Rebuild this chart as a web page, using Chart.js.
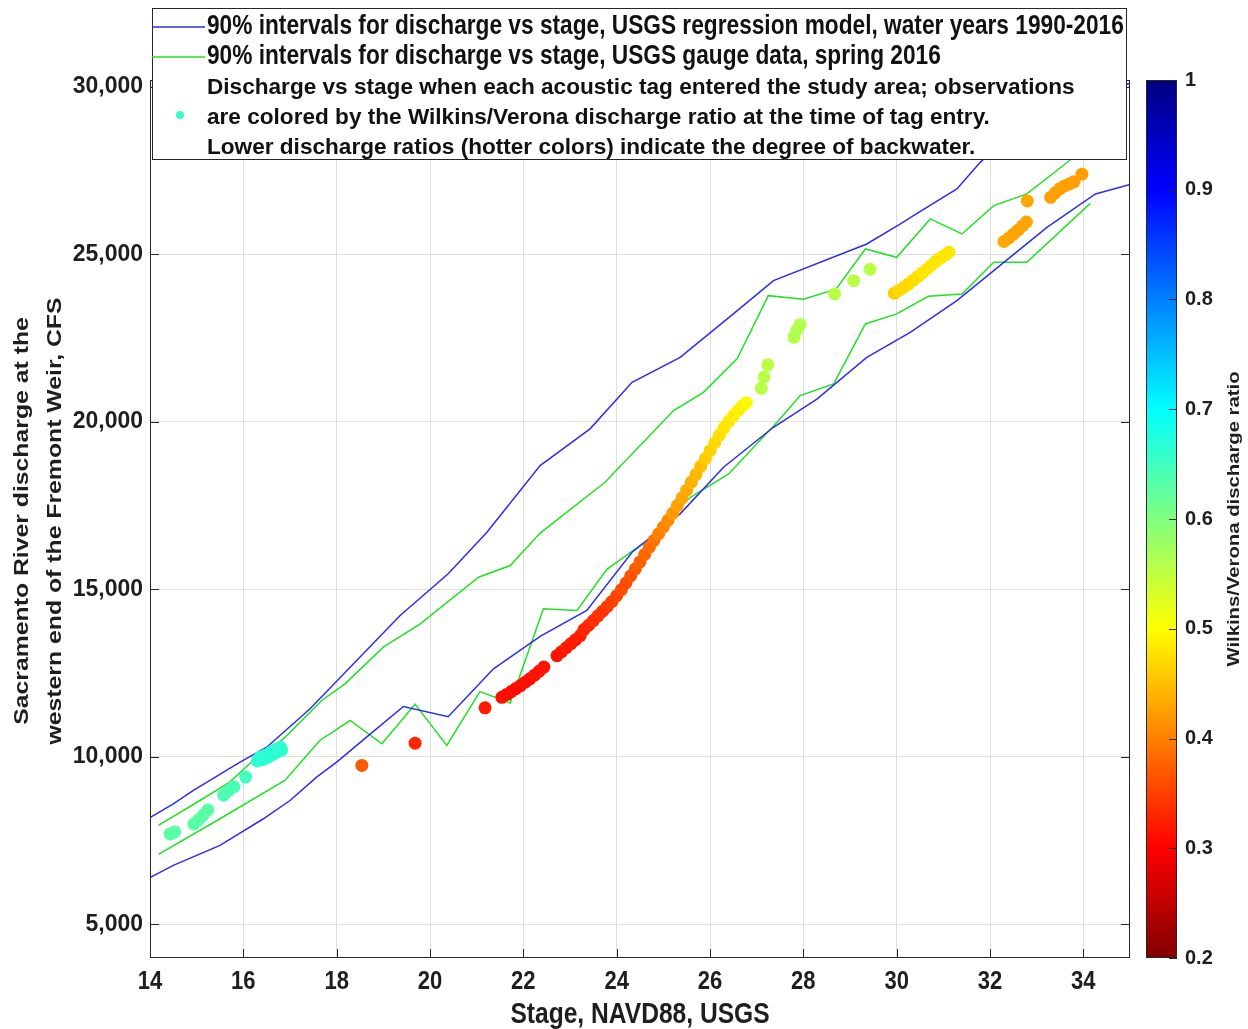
<!DOCTYPE html>
<html>
<head>
<meta charset="utf-8">
<title>Discharge vs stage</title>
<script src="https://cdn.jsdelivr.net/npm/chart.js@4.4.1/dist/chart.umd.min.js"></script>
<style>
  html, body { margin: 0; padding: 0; background: #fff; }
  #wrap { width: 1248px; height: 1029px; }
</style>
</head>
<body>
<div id="wrap"><canvas id="chart" width="1248" height="1029"></canvas></div>
<script>
// 90% interval lines (stage ft, discharge cfs)
const blueUpperStage = [14.0, 14.5, 14.93, 15.93, 16.5, 17.43, 19.36, 20.39, 21.22, 22.36, 23.43, 24.33, 25.36, 26.5, 27.36, 29.36, 30.08, 30.36, 31.29, 31.79, 32.3, 33.3, 34.3, 35.0];
const blueUpperFlow  = [8190, 8600, 9000, 9845, 10290, 11437, 14220, 15464, 16705, 18694, 19790, 21180, 21925, 23220, 24213, 25307, 25904, 26152, 26948, 27742, 28400, 29300, 29850, 30100];

const blueLowerStage = [14.0, 14.5, 15.5, 16.43, 17.0, 17.57, 18.0, 18.64, 19.43, 20.39, 21.36, 22.36, 23.36, 24.33, 25.36, 26.29, 27.36, 28.29, 29.36, 30.29, 31.29, 32.08, 33.22, 34.26, 35.0];
const blueLowerFlow  = [6400, 6763, 7360, 8155, 8700, 9396, 9845, 10590, 11505, 11200, 12630, 13600, 14370, 16108, 17253, 18644, 19837, 20680, 21925, 22670, 23616, 24511, 25803, 26800, 27080];

const greenUpperStage = [14.18, 15.07, 15.71, 16.29, 16.86, 17.68, 18.18, 19.0, 19.79, 21.04, 21.72, 22.36, 23.75, 25.22, 25.86, 26.58, 27.25, 28.0, 28.7, 29.33, 30.0, 30.72, 31.4, 32.08, 32.79, 33.61, 34.2];
const greenUpperFlow  = [7957, 8700, 9247, 9996, 10540, 11685, 12180, 13275, 13972, 15362, 15711, 16680, 18196, 20335, 20881, 21878, 23765, 23660, 23960, 25158, 24908, 26054, 25606, 26450, 26800, 27694, 28350];

const greenLowerStage = [14.18, 15.5, 16.89, 17.64, 18.29, 18.97, 19.68, 20.36, 21.07, 21.72, 22.43, 23.15, 23.79, 24.65, 25.58, 26.4, 27.5, 27.93, 28.65, 29.33, 30.0, 30.68, 31.4, 32.08, 32.79, 34.15];
const greenLowerFlow  = [7090, 8155, 9298, 10491, 11087, 10391, 11575, 10342, 11950, 11610, 14420, 14370, 15600, 16457, 17749, 18446, 20087, 20782, 21130, 22920, 23220, 23744, 23816, 24759, 24759, 26519];

// acoustic tag entries: stage, discharge, Wilkins/Verona discharge ratio
const tagStage = [
  14.43, 14.53, 14.94, 15.04, 15.14, 15.24, 15.58, 15.68, 15.80, 16.05,
  16.30, 16.36, 16.42, 16.48, 16.54, 16.58, 16.64, 16.68, 16.74, 16.80, 16.82,
  18.54, 19.68, 21.18,
  21.54, 21.64, 21.74, 21.84, 21.94, 22.04, 22.14, 22.24, 22.34, 22.44,
  22.72, 22.82, 22.92, 23.02, 23.12, 23.22,
  23.3, 23.4, 23.5, 23.6, 23.7, 23.8, 23.9, 24.0, 24.1, 24.2, 24.3, 24.4, 24.5, 24.6, 24.7, 24.8, 24.9,
  25.0, 25.1, 25.2, 25.3, 25.4, 25.5, 25.6, 25.7, 25.8, 25.9, 26.0, 26.1, 26.2, 26.3, 26.4, 26.5, 26.6, 26.7, 26.78,
  27.10, 27.16, 27.24, 27.80, 27.86, 27.93, 28.67, 29.08, 29.43,
  29.95, 30.05, 30.15, 30.25, 30.35, 30.45, 30.55, 30.65, 30.75, 30.85, 30.95, 31.05, 31.12,
  32.30, 32.40, 32.50, 32.60, 32.70, 32.78, 32.80,
  33.30, 33.40, 33.50, 33.60, 33.70, 33.80, 33.97
];
const tagFlow = [
  7700, 7760, 8000, 8120, 8260, 8420, 8860, 8990, 9110, 9400,
  9880, 10000, 9920, 10060, 9990, 10140, 10080, 10220, 10160, 10280, 10200,
  9746, 10411, 11466,
  11780, 11860, 11950, 12040, 12130, 12230, 12330, 12440, 12560, 12680,
  13020, 13140, 13260, 13380, 13500, 13620,
  13800, 13930, 14070, 14210, 14350, 14490, 14640, 14810, 14990, 15190, 15400, 15610, 15820, 16040, 16260, 16460, 16660,
  16860, 17060, 17270, 17500, 17730, 17960, 18200, 18430, 18670, 18900, 19140, 19370, 19600, 19820, 20010, 20180, 20340, 20480, 20570,
  21000, 21340, 21700, 22520, 22740, 22900, 23816, 24213, 24550,
  23840, 23920, 24010, 24110, 24220, 24330, 24440, 24560, 24680, 24800, 24900, 24990, 25060,
  25380, 25480, 25600, 25720, 25850, 25960, 26590,
  26700, 26840, 26960, 27040, 27100, 27160, 27390
];
const tagRatio = [
  0.63, 0.63, 0.63, 0.63, 0.63, 0.63, 0.64, 0.64, 0.64, 0.65,
  0.665, 0.665, 0.665, 0.665, 0.665, 0.665, 0.665, 0.665, 0.665, 0.665, 0.665,
  0.37, 0.33, 0.32,
  0.31, 0.31, 0.31, 0.31, 0.31, 0.31, 0.31, 0.315, 0.315, 0.315,
  0.315, 0.315, 0.32, 0.32, 0.32, 0.325,
  0.33, 0.33, 0.335, 0.34, 0.34, 0.345, 0.35, 0.355, 0.36, 0.36, 0.365, 0.37, 0.375, 0.38, 0.385, 0.39, 0.40,
  0.405, 0.41, 0.42, 0.425, 0.43, 0.435, 0.44, 0.445, 0.45, 0.46, 0.465, 0.47, 0.475, 0.48, 0.48, 0.485, 0.49, 0.49, 0.495,
  0.555, 0.555, 0.555, 0.56, 0.56, 0.56, 0.555, 0.555, 0.555,
  0.46, 0.47, 0.47, 0.47, 0.475, 0.475, 0.48, 0.48, 0.48, 0.48, 0.48, 0.48, 0.48,
  0.43, 0.43, 0.43, 0.43, 0.43, 0.43, 0.43,
  0.425, 0.425, 0.425, 0.425, 0.425, 0.425, 0.425
];

const xTicks = [14, 16, 18, 20, 22, 24, 26, 28, 30, 32, 34];
const yTicks = [5000, 10000, 15000, 20000, 25000, 30000];
const ratioTicks = [0.2, 0.3, 0.4, 0.5, 0.6, 0.7, 0.8, 0.9, 1];

const legendText = [
  '90% intervals for discharge vs stage, USGS regression model, water years 1990-2016',
  '90% intervals for discharge vs stage, USGS gauge data, spring 2016',
  'Discharge vs stage when each acoustic tag entered the study area; observations',
  'are colored by the Wilkins/Verona discharge ratio at the time of tag entry.',
  'Lower discharge ratios (hotter colors) indicate the degree of backwater.'
];
const legendMarkerRatio = 0.655;
const xTitle = 'Stage, NAVD88, USGS';
const yTitle = ['Sacramento River discharge at the', 'western end of the Fremont Weir, CFS'];
const colorbarTitle = 'Wilkins/Verona discharge ratio';

const sans = "'Liberation Sans', Arial, sans-serif";
const textColor = '#1e1e1e';
const axisColor = '#262626';
const gridColor = '#dedede';
const blue = 'rgb(45,45,235)';
const green = 'rgb(35,225,35)';
const stretch = 1.18; // the figure's text is drawn taller than wide

// reversed jet: 1 -> dark blue, 0.2 -> dark red
function jet(ratio) {
  const u = Math.min(1, Math.max(0, (1 - ratio) / 0.8));
  const c = v => Math.round(255 * Math.min(1, Math.max(0, v)));
  const r = c(Math.min(4 * u - 1.5, 4.5 - 4 * u));
  const g = c(Math.min(4 * u - 0.5, 3.5 - 4 * u));
  const b = c(Math.min(4 * u + 0.5, 2.5 - 4 * u));
  return `rgb(${r},${g},${b})`;
}

const toPoints = (xs, ys) => xs.map((x, i) => ({ x, y: ys[i] }));

function lineSet(xs, ys, color) {
  return {
    data: toPoints(xs, ys),
    showLine: true,
    borderColor: color,
    borderWidth: 1.5,
    pointRadius: 0,
    fill: false,
    order: 1
  };
}

// text with a non-uniform scale: sx along the baseline, sy across it
function drawText(ctx, text, x, y, font, opts) {
  const o = Object.assign({ sx: 1, sy: 1, rot: 0, align: 'center' }, opts);
  ctx.save();
  ctx.translate(x, y);
  ctx.rotate(o.rot);
  ctx.scale(o.sx, o.sy);
  ctx.font = font;
  ctx.textAlign = o.align;
  ctx.textBaseline = 'middle';
  ctx.fillText(text, 0, 0);
  ctx.restore();
}

const decorations = {
  id: 'decorations',
  afterDraw(chart) {
    const { ctx, chartArea: a, scales } = chart;
    const seg = (x1, y1, x2, y2) => { ctx.beginPath(); ctx.moveTo(x1, y1); ctx.lineTo(x2, y2); ctx.stroke(); };
    ctx.save();

    // axes box with inward ticks
    ctx.strokeStyle = axisColor;
    ctx.lineWidth = 1;
    ctx.strokeRect(a.left + 0.5, a.top + 0.5, a.right - a.left - 1, a.bottom - a.top - 1);
    xTicks.forEach(v => {
      const x = Math.round(scales.x.getPixelForValue(v)) + 0.5;
      seg(x, a.bottom, x, a.bottom - 9);
      seg(x, a.top, x, a.top + 9);
    });
    yTicks.forEach(v => {
      const y = Math.round(scales.y.getPixelForValue(v)) + 0.5;
      seg(a.left, y, a.left + 9, y);
      seg(a.right, y, a.right - 9, y);
    });

    // axis labels and titles
    ctx.fillStyle = textColor;
    xTicks.forEach(v => {
      drawText(ctx, String(v), scales.x.getPixelForValue(v), a.bottom + 24, `bold 22px ${sans}`, { sy: stretch });
    });
    drawText(ctx, xTitle, (a.left + a.right) / 2, a.bottom + 57, `bold 24.6px ${sans}`, { sy: stretch });
    const midY = (a.top + a.bottom) / 2 + 2;
    drawText(ctx, yTitle[0], 22, midY, `bold 21px ${sans}`, { rot: -Math.PI / 2, sx: stretch });
    drawText(ctx, yTitle[1], 55, midY, `bold 21px ${sans}`, { rot: -Math.PI / 2, sx: stretch });

    // colorbar
    const cb = scales.cbar;
    const bl = a.right + 16, br = a.right + 47;
    const grad = ctx.createLinearGradient(0, a.top, 0, a.bottom);
    [0, 0.125, 0.375, 0.625, 0.875, 1].forEach(u => grad.addColorStop(u, jet(1 - 0.8 * u)));
    ctx.fillStyle = grad;
    ctx.fillRect(bl, a.top, br - bl, a.bottom - a.top);
    ctx.strokeRect(bl + 0.5, a.top + 0.5, br - bl - 1, a.bottom - a.top - 1);
    ratioTicks.forEach(v => {
      const y = Math.round(cb.getPixelForValue(v)) + 0.5;
      seg(br - 8, y, br, y);
    });
    ctx.fillStyle = textColor;
    drawText(ctx, colorbarTitle, 1234, (a.top + a.bottom) / 2, `bold 17.2px ${sans}`, { rot: -Math.PI / 2, sx: stretch });

    // legend box
    const lx = a.left + 2, lr = a.right - 3, lt = 8, lb = 160;
    ctx.fillStyle = '#ffffff';
    ctx.fillRect(lx, lt, lr - lx, lb - lt);
    ctx.strokeStyle = axisColor;
    ctx.strokeRect(lx + 0.5, lt + 0.5, lr - lx - 1, lb - lt - 1);
    const rowY = [27, 57, 88, 118, 148];
    ctx.lineWidth = 1.5;
    ctx.strokeStyle = blue;
    seg(lx, rowY[0], lx + 53, rowY[0]);
    ctx.strokeStyle = green;
    seg(lx, rowY[1], lx + 53, rowY[1]);
    ctx.fillStyle = jet(legendMarkerRatio);
    ctx.beginPath();
    ctx.arc(lx + 28, 115, 4, 0, Math.PI * 2);
    ctx.fill();

    ctx.fillStyle = '#111111';
    legendText.forEach((t, i) => {
      if (i < 2) {
        drawText(ctx, t, lx + 55, rowY[i], `bold 22.7px ${sans}`, { align: 'left', sy: stretch });
      } else {
        drawText(ctx, t, lx + 55, rowY[i], `bold 22.6px ${sans}`, { align: 'left' });
      }
    });
    ctx.restore();
  }
};

new Chart(document.getElementById('chart'), {
  type: 'scatter',
  data: {
    datasets: [
      {
        data: toPoints(tagStage, tagFlow),
        backgroundColor: tagRatio.map(jet),
        borderWidth: 0,
        pointRadius: 6.5,
        order: 0
      },
      lineSet(blueUpperStage, blueUpperFlow, blue),
      lineSet(blueLowerStage, blueLowerFlow, blue),
      lineSet(greenUpperStage, greenUpperFlow, green),
      lineSet(greenLowerStage, greenLowerFlow, green)
    ]
  },
  options: {
    responsive: false,
    animation: false,
    devicePixelRatio: 1,
    layout: { padding: { left: 0, right: 0, top: 80, bottom: 0 } },
    plugins: { legend: { display: false }, tooltip: { enabled: false } },
    scales: {
      x: {
        type: 'linear',
        min: 14,
        max: 35,
        afterBuildTicks: s => { s.ticks = xTicks.map(v => ({ value: v })); },
        afterFit: s => { s.height = 71; },
        grid: { color: gridColor, drawTicks: false },
        border: { display: false },
        ticks: { display: false }
      },
      y: {
        type: 'linear',
        min: 4000,
        max: 30200,
        afterBuildTicks: s => { s.ticks = yTicks.map(v => ({ value: v })); },
        afterFit: s => { s.width = 150; },
        grid: { color: gridColor, drawTicks: false },
        border: { display: false },
        ticks: { padding: 7, color: textColor, font: { family: sans, size: 23, weight: 'bold' }, callback: v => v.toLocaleString('en-US') }
      },
      cbar: {
        type: 'linear',
        position: 'right',
        min: 0.2,
        max: 1,
        afterBuildTicks: s => { s.ticks = ratioTicks.map(v => ({ value: v })); },
        afterFit: s => { s.width = 118; },
        grid: { display: false, drawTicks: false },
        border: { display: false },
        ticks: { padding: 55, color: textColor, font: { family: sans, size: 20, weight: 'bold' }, callback: v => String(v) }
      }
    }
  },
  plugins: [decorations]
});
</script>
</body>
</html>
